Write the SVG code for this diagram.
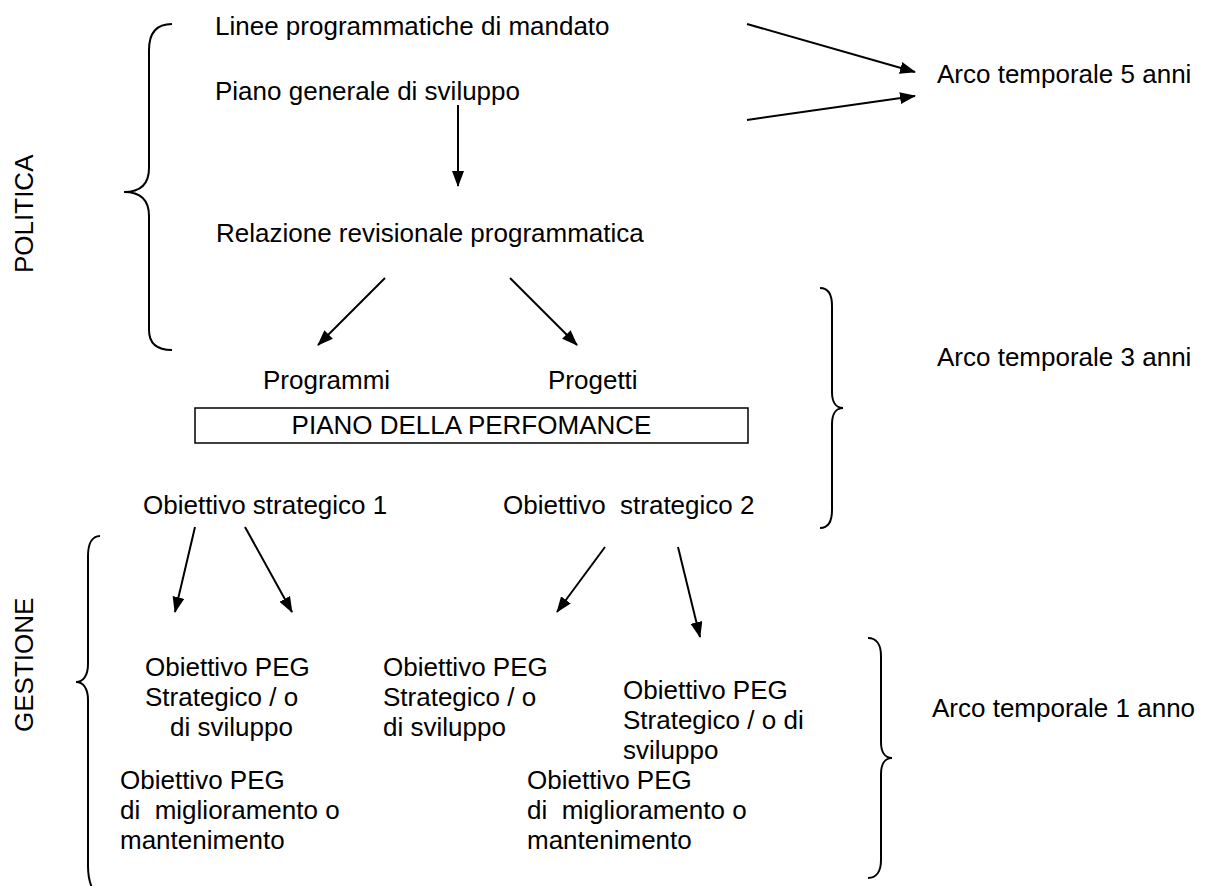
<svg xmlns="http://www.w3.org/2000/svg" width="1232" height="886" viewBox="0 0 1232 886">
<style>
text{font-family:"Liberation Sans",Arial,sans-serif;font-size:26px;fill:#000}
.br{fill:none;stroke:#000;stroke-width:2}
.ar{fill:none;stroke:#000;stroke-width:2;marker-end:url(#ah)}
</style>
<defs>
<marker id="ah" viewBox="0 0 16 12" refX="15" refY="6" markerWidth="16" markerHeight="12" markerUnits="userSpaceOnUse" orient="auto">
<path d="M0,0 L16,6 L0,12 z" fill="#000"/>
</marker>
<clipPath id="c-obs"><rect x="100" y="480" width="700" height="40"/></clipPath>
<clipPath id="c-peg2"><rect x="370" y="640" width="200" height="102"/></clipPath>
<clipPath id="c-peg3"><rect x="610" y="660" width="220" height="105"/></clipPath>
</defs>
<rect width="1232" height="886" fill="#fff"/>
<g id="braces">
<path class="br" d="M172,24 C155,24 149,34 149,50 L149,168 C149,184 140,192 124,192 C140,192 149,200 149,216 L149,330 C149,342 155,350 172,350"/>
<path class="br" d="M820,288 C828,288 832,294 832,306 L832,392 C832,402 836,408 843,408 C836,408 832,414 832,424 L832,510 C832,522 828,528 820,528"/>
<path class="br" d="M100,536 C92,536 88,544 88,556 L88,664 C88,676 83,682 76,682 C83,682 88,688 88,700 L88,866 C88,878 90,884 93,890"/>
<path class="br" d="M868,638 C876,638 881,644 881,656 L881,742 C881,752 885,758 892,758 C885,758 881,764 881,774 L881,860 C881,872 876,878 868,878"/>
</g>
<g id="side-labels">
<text id="politica" transform="translate(33,273) rotate(-90)">POLITICA</text>
<text id="gestione" transform="translate(33,732) rotate(-90)">GESTIONE</text>
</g>
<g id="n-linee"><text x="215" y="35">Linee programmatiche di mandato</text></g>
<g id="n-piano"><text x="215" y="100">Piano generale di sviluppo</text></g>
<g id="n-arco5"><text x="937" y="83">Arco temporale 5 anni</text></g>
<g id="n-relazione"><text x="216" y="242">Relazione revisionale programmatica</text></g>
<g id="n-programmi"><text x="263" y="389">Programmi</text></g>
<g id="n-progetti"><text x="548" y="389">Progetti</text></g>
<g id="n-arco3"><text x="937" y="366">Arco temporale 3 anni</text></g>
<g id="n-pianoperf">
<rect x="195" y="408" width="553" height="35" fill="none" stroke="#000" stroke-width="1.5"/>
<text x="471.5" y="434" text-anchor="middle">PIANO DELLA PERFOMANCE</text>
</g>
<g id="n-obs1" clip-path="url(#c-obs)"><text x="143" y="514">Obiettivo strategico 1</text></g>
<g id="n-obs2" clip-path="url(#c-obs)"><text x="503" y="514" xml:space="preserve">Obiettivo  strategico 2</text></g>
<g id="n-peg1">
<text x="145" y="676">Obiettivo PEG</text>
<text x="145" y="706">Strategico / o</text>
<text x="170" y="736">di sviluppo</text>
</g>
<g id="n-peg2" clip-path="url(#c-peg2)">
<text x="383" y="676">Obiettivo PEG</text>
<text x="383" y="706">Strategico / o</text>
<text x="383" y="736">di sviluppo</text>
</g>
<g id="n-peg3" clip-path="url(#c-peg3)">
<text x="623" y="699">Obiettivo PEG</text>
<text x="623" y="729">Strategico / o di</text>
<text x="623" y="759">sviluppo</text>
</g>
<g id="n-arco1"><text x="932" y="717">Arco temporale 1 anno</text></g>
<g id="n-peg4">
<text x="120" y="789">Obiettivo PEG</text>
<text x="120" y="819" xml:space="preserve">di  miglioramento o</text>
<text x="120" y="849">mantenimento</text>
</g>
<g id="n-peg5">
<text x="527" y="789">Obiettivo PEG</text>
<text x="527" y="819" xml:space="preserve">di  miglioramento o</text>
<text x="527" y="849">mantenimento</text>
</g>
<g id="connectors">
<line class="ar" x1="747" y1="24" x2="915" y2="72"/>
<line class="ar" x1="747" y1="120" x2="915" y2="96"/>
<line class="ar" x1="458" y1="105" x2="458" y2="186"/>
<line class="ar" x1="385" y1="278" x2="318" y2="345"/>
<line class="ar" x1="510" y1="278" x2="577" y2="345"/>
<line class="ar" x1="195" y1="527" x2="175" y2="612"/>
<line class="ar" x1="245" y1="527" x2="292" y2="612"/>
<line class="ar" x1="605" y1="547" x2="557" y2="612"/>
<line class="ar" x1="678" y1="547" x2="700" y2="637"/>
</g>
</svg>
